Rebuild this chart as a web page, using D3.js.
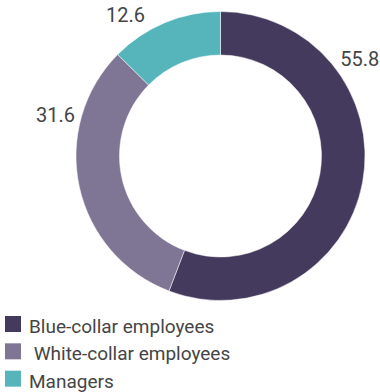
<!DOCTYPE html>
<html>
<head>
<meta charset="utf-8">
<script src="https://cdn.jsdelivr.net/npm/d3@7"></script>
<style>
  body { margin: 0; background: #fff; }
  svg text { font-family: Roboto, "Noto Sans", sans-serif; fill: #454545; }
</style>
</head>
<body>
<div id="chart"></div>
<script>
const categories = ["Blue-collar employees", " White-collar employees", "Managers"];
const values = [55.8, 31.6, 12.6];
const colors = ["#433a5e", "#7e7694", "#55b5ba"];

const width = 380, height = 392;
const cx = 220.5, cy = 156, outerR = 144.5, innerR = 101;
// where each value label sits around the ring, in degrees from 12 o'clock
const labelAngles = [55, 284, 326];
const labelR = 170;

const svg = d3.select("#chart").append("svg")
    .attr("width", width).attr("height", height);

const pie = d3.pie().sort(null).value(d => d)(values);
const arc = d3.arc().innerRadius(innerR).outerRadius(outerR);

const g = svg.append("g").attr("transform", `translate(${cx},${cy})`);

g.selectAll("path")
    .data(pie)
    .join("path")
    .attr("d", arc)
    .attr("fill", (d, i) => colors[i])
    .attr("stroke", "#fff")
    .attr("stroke-width", 0.5);

g.selectAll("text.val")
    .data(pie)
    .join("text")
    .attr("class", "val")
    .attr("x", (d, i) => labelR * Math.sin(labelAngles[i] * Math.PI / 180))
    .attr("y", (d, i) => -labelR * Math.cos(labelAngles[i] * Math.PI / 180))
    .attr("text-anchor", "middle")
    .attr("dominant-baseline", "central")
    .attr("font-size", 20)
    .text(d => d.value.toFixed(1));

// Legend
const y = d3.scaleBand().domain(d3.range(categories.length)).range([316, 398]);
const legend = svg.append("g").selectAll("g")
    .data(categories)
    .join("g")
    .attr("transform", (d, i) => `translate(5,${y(i)})`);

legend.append("rect")
    .attr("width", 16).attr("height", 16)
    .attr("fill", (d, i) => colors[i]);

legend.append("text")
    .attr("x", 24)
    .attr("y", 17)
    .attr("font-size", 19)
    .attr("xml:space", "preserve")
    .style("white-space", "pre")
    .text(d => d);
</script>
</body>
</html>
